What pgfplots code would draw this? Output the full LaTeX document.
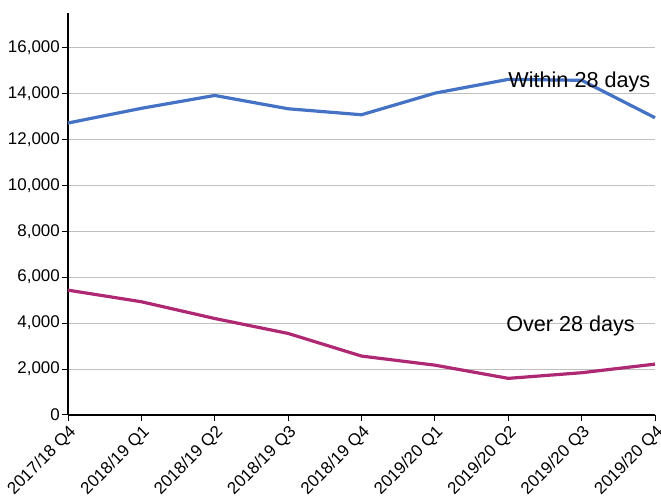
\documentclass[border=0pt]{standalone}
\usepackage{pgfplots}
\pgfplotsset{compat=1.18}
\usepackage{fontspec}
\setmainfont{Liberation Sans}
\definecolor{within}{HTML}{4472C4}
\definecolor{over}{HTML}{AF2873}
\definecolor{gridc}{HTML}{BFBFBF}
\begin{document}
\begin{tikzpicture}[x=1bp,y=1bp]
\useasboundingbox (-68,-83) rectangle (593,415);
\begin{axis}[at={(0,0)}, anchor=south west, scale only axis,
  width=587bp, height=402bp,
  xmin=0, xmax=8, ymin=0, ymax=17500,
  axis x line=bottom, axis y line=left,
  axis line style={-, line width=1.3bp, black},
  xtick={0,...,8},
  xticklabels={2017/18 Q4,2018/19 Q1,2018/19 Q2,2018/19 Q3,2018/19 Q4,2019/20 Q1,2019/20 Q2,2019/20 Q3,2019/20 Q4},
  ytick={0,2000,...,16000},
  scaled y ticks=false,
  ymajorgrids, grid style={gridc, line width=1bp},
  tick align=outside, major tick length=6bp, tick style={black, line width=1bp},
  yticklabel style={font=\fontsize{17}{20}\selectfont, inner sep=2bp},
  xticklabel style={font=\fontsize{17}{20}\selectfont, rotate=45, anchor=north east, inner sep=2bp},
  /pgf/number format/assume math mode=true, /pgf/number format/1000 sep={,},
  clip=false]
\addplot[within, line width=3.2bp, mark=none] coordinates {
 (0,12710) (1,13350) (2,13910) (3,13330) (4,13070) (5,14010) (6,14610) (7,14570) (8,12940)};
\addplot[over, line width=3.2bp, mark=none] coordinates {
 (0,5435) (1,4930) (2,4200) (3,3550) (4,2565) (5,2170) (6,1595) (7,1840) (8,2215)};
\node[anchor=base west, font=\fontsize{21.7}{24}\selectfont, inner sep=0] at (axis cs:6.0,14248) {Within 28 days};
\node[anchor=base west, font=\fontsize{21.7}{24}\selectfont, inner sep=0] at (axis cs:5.97,3622) {Over 28 days};
\end{axis}
\end{tikzpicture}
\end{document}
